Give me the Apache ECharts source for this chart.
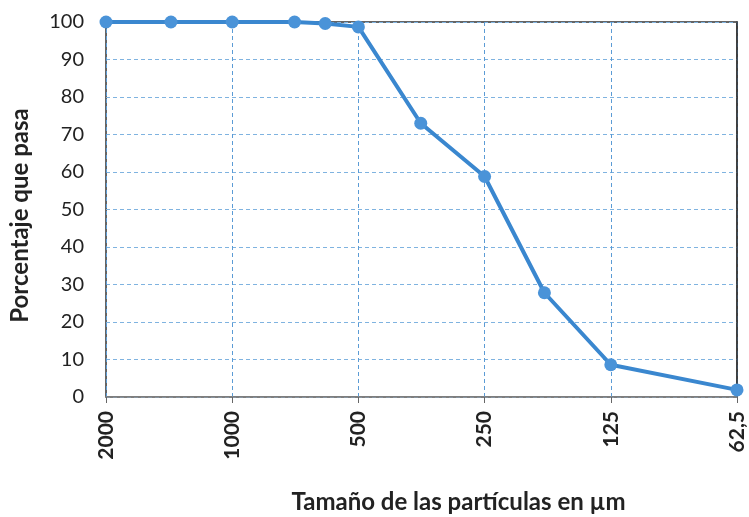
<!DOCTYPE html>
<html><head><meta charset="utf-8">
<script src="https://cdn.jsdelivr.net/npm/echarts@6/dist/echarts.min.js"></script>
<style>html,body{margin:0;padding:0;background:#fff}#c{width:749px;height:517px}</style>
</head><body><div id="c"></div>
<script>
// Particle sizes (µm) and percent passing
const sizes = [2000, 1400, 1000, 710, 600, 500, 355, 250, 180, 125, 62.5];
const passing = [100, 100, 100, 100, 99.6, 98.7, 73, 58.8, 27.8, 8.6, 1.9];
const tickSizes = [2000, 1000, 500, 250, 125, 62.5];
const yTicks = [0, 10, 20, 30, 40, 50, 60, 70, 80, 90, 100];

const base = 62.5;
const toX = s => Math.log2(s / base);
const data = sizes.map((s, i) => [toX(s), passing[i]]);
const fmtSize = v => {
  const s = base * Math.pow(2, v);
  return String(Math.round(s * 10) / 10).replace('.', ',');
};
const font = 'Lato';
const chart = echarts.init(document.getElementById('c'));
chart.setOption({
  animation: false,
  grid: { left: 106, right: 12, top: 22, bottom: 120, show: true, borderColor: '#333', borderWidth: 1.5,
          containLabel: false, outerBoundsMode: 'none' },
  xAxis: {
    type: 'value', inverse: true, min: 0, max: toX(2000), interval: 1,
    name: 'Tamaño de las partículas en µm', nameLocation: 'middle', nameGap: 93,
    nameTextStyle: { fontFamily: font, fontWeight: 'bold', fontSize: 24, color: '#222', padding: [0, 0, 0, 74] },
    axisLine: { lineStyle: { color: '#888', width: 1.5 } },
    axisTick: { show: true, length: 6, lineStyle: { color: '#666' } },
    axisLabel: { rotate: 90, formatter: fmtSize, fontFamily: font, fontWeight: 'bold', fontSize: 21, color: '#222', margin: 14 },
    splitLine: { show: true, lineStyle: { color: '#5b9bd5', type: [4, 3], width: 1 } }
  },
  yAxis: {
    type: 'value', min: 0, max: 100, interval: 10,
    name: 'Porcentaje que pasa', nameLocation: 'middle', nameGap: 74,
    nameTextStyle: { fontFamily: font, fontWeight: 'bold', fontSize: 24, color: '#222', padding: [0, 12, 0, 0] },
    axisLine: { show: true, lineStyle: { color: '#333', width: 1.5 } },
    axisTick: { show: false },
    axisLabel: { fontFamily: font, fontSize: 20, color: '#222', margin: 22 },
    splitLine: { show: true, lineStyle: { color: '#7fb3e0', type: [4, 3], width: 1 } }
  },
  series: [{
    type: 'line', data: data,
    symbol: 'circle', symbolSize: 13,
    lineStyle: { color: '#3a87cf', width: 4 },
    itemStyle: { color: '#4a93d8' }
  }]
});
</script></body></html>
